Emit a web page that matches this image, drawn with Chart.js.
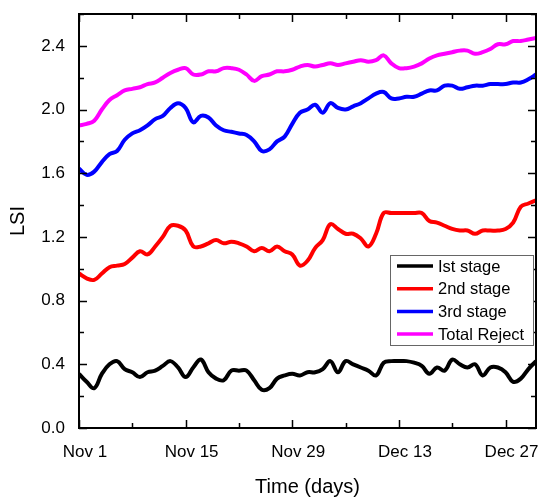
<!DOCTYPE html>
<html>
<head>
<meta charset="utf-8">
<script src="https://cdn.jsdelivr.net/npm/chart.js@4/dist/chart.umd.min.js"></script>
<style>
  html, body { margin: 0; padding: 0; background: #fff; }
  #wrap { width: 540px; height: 497px; }
</style>
</head>
<body>
<div id="wrap"><canvas id="lsiChart" width="540" height="497"></canvas></div>
<script>
// --- Date ---
// zile de la Nov 1 (0) pana la Dec 31 (60)
const days = Array.from({ length: 61 }, (_, i) => i);

const tickDays = [0, 14, 28, 42, 56];
const tickLabels = ['Nov 1', 'Nov 15', 'Nov 29', 'Dec 13', 'Dec 27'];

const stage1 = [
  0.34, 0.29, 0.25, 0.34, 0.40, 0.42, 0.37, 0.35, 0.32, 0.35, 0.36,
  0.39, 0.42, 0.38, 0.32, 0.38, 0.43, 0.35, 0.31, 0.30, 0.36,
  0.36, 0.36, 0.30, 0.24, 0.25, 0.31, 0.33, 0.34, 0.33, 0.35,
  0.35, 0.37, 0.42, 0.35, 0.42, 0.40, 0.38, 0.36, 0.33, 0.41,
  0.42, 0.42, 0.42, 0.41, 0.39, 0.34, 0.38, 0.36, 0.43, 0.40,
  0.38, 0.40, 0.33, 0.38, 0.38, 0.35, 0.29, 0.31, 0.37, 0.42
];
const stage2 = [
  0.97, 0.94, 0.93, 0.97, 1.01, 1.02, 1.03, 1.07, 1.11, 1.09, 1.14,
  1.20, 1.27, 1.27, 1.24, 1.14, 1.14, 1.16, 1.18, 1.16, 1.17,
  1.16, 1.14, 1.11, 1.13, 1.11, 1.14, 1.11, 1.09, 1.02, 1.05,
  1.13, 1.18, 1.28, 1.25, 1.22, 1.22, 1.19, 1.14, 1.22, 1.35,
  1.35, 1.35, 1.35, 1.35, 1.35, 1.30, 1.29, 1.27, 1.25, 1.24,
  1.24, 1.22, 1.24, 1.24, 1.24, 1.25, 1.29, 1.39, 1.41, 1.43
];
const stage3 = [
  1.63, 1.59, 1.61, 1.67, 1.72, 1.74, 1.81, 1.85, 1.87, 1.90, 1.94,
  1.96, 2.01, 2.04, 2.01, 1.92, 1.96, 1.95, 1.90, 1.87, 1.86,
  1.85, 1.84, 1.80, 1.74, 1.75, 1.80, 1.83, 1.91, 1.98, 2.00,
  2.03, 1.98, 2.04, 2.01, 2.00, 2.02, 2.04, 2.07, 2.10, 2.11,
  2.07, 2.07, 2.08, 2.08, 2.10, 2.12, 2.12, 2.15, 2.15, 2.13,
  2.14, 2.15, 2.15, 2.16, 2.16, 2.16, 2.17, 2.17, 2.19, 2.22
];
const totalReject = [
  1.90, 1.91, 1.93, 2.00, 2.06, 2.09, 2.12, 2.13, 2.14, 2.16, 2.17,
  2.20, 2.23, 2.25, 2.26, 2.22, 2.22, 2.24, 2.24, 2.26, 2.26,
  2.25, 2.22, 2.18, 2.21, 2.22, 2.24, 2.24, 2.25, 2.27, 2.28,
  2.27, 2.28, 2.29, 2.28, 2.29, 2.30, 2.31, 2.30, 2.31, 2.34,
  2.29, 2.26, 2.26, 2.27, 2.29, 2.32, 2.34, 2.35, 2.36, 2.37,
  2.37, 2.35, 2.36, 2.38, 2.41, 2.41, 2.43, 2.43, 2.44, 2.45
];

const FONT = "'Liberation Sans', Arial, sans-serif";

const toPoints = values => values.map((v, i) => ({ x: days[i], y: v }));

function makeSeries(label, values, color) {
    return {
        label: label,
        data: toPoints(values),
        borderColor: color,
        backgroundColor: color,
        borderWidth: 4,
        pointRadius: 0,
        tension: 0.4,
        fill: false
    };
}

// Rama graficului cu liniute spre interior pe toate cele 4 laturi
const framePlugin = {
    id: 'frame',
    afterDatasetsDraw(chart) {
        const { ctx, chartArea: a, scales: { x, y } } = chart;
        ctx.save();
        ctx.strokeStyle = '#000';
        ctx.lineWidth = 2;
        ctx.strokeRect(a.left, a.top, a.right - a.left, a.bottom - a.top);

        ctx.lineWidth = 1.5;
        ctx.beginPath();
        x.ticks.forEach(t => {
            const px = Math.round(x.getPixelForValue(t.value)) + 0.5;
            const len = t.value % 14 === 0 ? 8 : 5;
            ctx.moveTo(px, a.bottom); ctx.lineTo(px, a.bottom - len);
            ctx.moveTo(px, a.top); ctx.lineTo(px, a.top + len);
        });
        y.ticks.forEach(t => {
            const py = Math.round(y.getPixelForValue(t.value)) + 0.5;
            const len = Math.round(t.value * 10) % 4 === 0 ? 8 : 5;
            ctx.moveTo(a.left, py); ctx.lineTo(a.left + len, py);
            ctx.moveTo(a.right, py); ctx.lineTo(a.right - len, py);
        });
        ctx.stroke();
        ctx.restore();
    }
};

// Legenda in interiorul zonei de desen, jos-dreapta
const boxLegendPlugin = {
    id: 'boxLegend',
    afterDraw(chart) {
        const { ctx } = chart;
        const left = 390, top = 255, width = 143, height = 90;
        ctx.save();
        ctx.fillStyle = '#fff';
        ctx.fillRect(left, top, width, height);
        ctx.strokeStyle = '#666';
        ctx.lineWidth = 1;
        ctx.strokeRect(left + 0.5, top + 0.5, width, height);

        ctx.font = '16.5px ' + FONT;
        ctx.textBaseline = 'middle';
        chart.data.datasets.forEach((ds, i) => {
            const rowY = top + 11 + i * 22.7;
            ctx.strokeStyle = ds.borderColor;
            ctx.lineWidth = 3.5;
            ctx.beginPath();
            ctx.moveTo(left + 7, rowY);
            ctx.lineTo(left + 43, rowY);
            ctx.stroke();
            ctx.fillStyle = '#000';
            ctx.fillText(ds.label, left + 48, rowY + 1);
        });
        ctx.restore();
    }
};

new Chart(document.getElementById('lsiChart'), {
    type: 'line',
    data: {
        datasets: [
            makeSeries('Ist stage', stage1, '#000000'),
            makeSeries('2nd stage', stage2, '#ff0000'),
            makeSeries('3rd stage', stage3, '#0000ff'),
            makeSeries('Total Reject', totalReject, '#ff00ff')
        ]
    },
    options: {
        responsive: false,
        animation: false,
        layout: { padding: { top: 14, right: 4, left: 0, bottom: 0 } },
        plugins: {
            legend: { display: false },
            tooltip: { enabled: false }
        },
        scales: {
            x: {
                type: 'linear',
                min: 0,
                max: 60,
                afterBuildTicks: scale => {
                    scale.ticks = [0, 7, 14, 21, 28, 35, 42, 49, 56].map(v => ({ value: v }));
                },
                afterFit: scale => {
                    scale.height = 69;
                    scale.paddingLeft = 0;
                    scale.paddingRight = 0;
                },
                grid: { display: false, drawTicks: false },
                border: { display: false },
                ticks: {
                    padding: 14,
                    labelOffset: 6,
                    maxRotation: 0,
                    autoSkip: false,
                    color: '#000',
                    font: { family: FONT, size: 17 },
                    callback: v => {
                        const k = tickDays.indexOf(v);
                        return k >= 0 ? tickLabels[k] : '';
                    }
                },
                title: {
                    display: true,
                    text: 'Time (days)',
                    color: '#000',
                    padding: { top: 0, bottom: 0 },
                    font: { family: FONT, size: 20, lineHeight: 1 }
                }
            },
            y: {
                min: 0,
                max: 2.6,
                afterFit: scale => {
                    scale.width = 79;
                    scale.paddingTop = 0;
                    scale.paddingBottom = 0;
                },
                grid: { display: false, drawTicks: false },
                border: { display: false },
                ticks: {
                    stepSize: 0.2,
                    padding: 14,
                    color: '#000',
                    font: { family: FONT, size: 17 },
                    callback: v => Math.round(v * 10) % 4 === 0 ? v.toFixed(1) : ''
                },
                title: {
                    display: true,
                    text: 'LSI',
                    color: '#000',
                    padding: { top: 8, bottom: 0 },
                    font: { family: FONT, size: 20, lineHeight: 1 }
                }
            }
        }
    },
    plugins: [framePlugin, boxLegendPlugin]
});
</script>
</body>
</html>
